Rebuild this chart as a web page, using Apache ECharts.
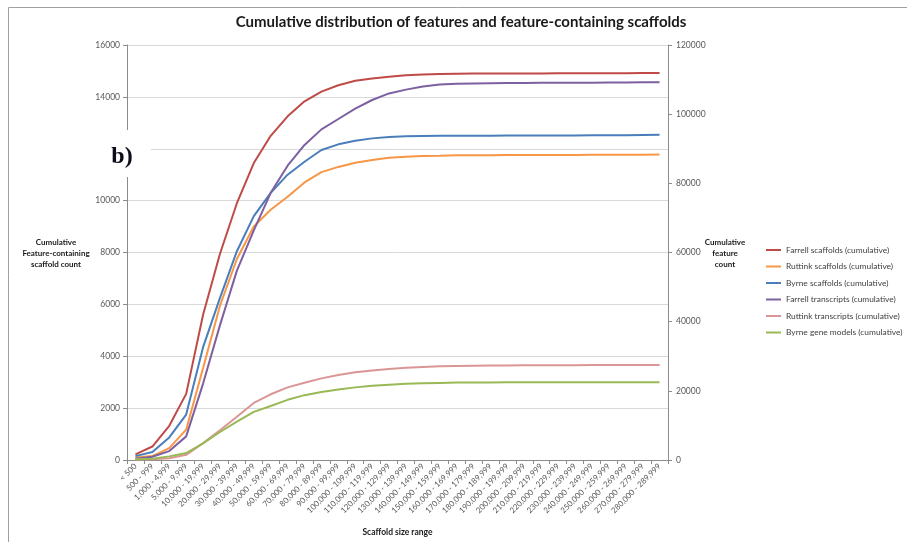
<!DOCTYPE html>
<html>
<head>
<meta charset="utf-8">
<script src="https://cdn.jsdelivr.net/npm/echarts@6/dist/echarts.min.js"></script>
<style>
  html, body { margin: 0; padding: 0; background: #fff; }
  #chart { width: 907px; height: 542px; }
</style>
</head>
<body>
<div id="chart"></div>
<script>
// Scaffold size bins
const categories = [
  '< 500', '500 - 999', '1,000 - 4,999', '5,000 - 9,999',
  '10,000 - 19,999', '20,000 - 29,999', '30,000 - 39,999', '40,000 - 49,999',
  '50,000 - 59,999', '60,000 - 69,999', '70,000 - 79,999', '80,000 - 89,999',
  '90,000 - 99,999', '100,000 - 109,999', '110,000 - 119,999', '120,000 - 129,999',
  '130,000 - 139,999', '140,000 - 149,999', '150,000 - 159,999', '160,000 - 169,999',
  '170,000 - 179,999', '180,000 - 189,999', '190,000 - 199,999', '200,000 - 209,999',
  '210,000 - 219,999', '220,000 - 229,999', '230,000 - 239,999', '240,000 - 249,999',
  '250,000 - 259,999', '260,000 - 269,999', '270,000 - 279,999', '280,000 - 289,999'
];

// Cumulative feature-containing scaffold counts (left axis)
const farrellScaffolds = [220, 520, 1320, 2550, 5600, 7950, 9900, 11450, 12500, 13250, 13830, 14200,
  14450, 14620, 14710, 14780, 14830, 14860, 14880, 14890, 14900, 14900, 14900, 14905,
  14905, 14910, 14910, 14910, 14915, 14915, 14920, 14920];
const ruttinkScaffolds = [100, 150, 460, 1170, 3550, 5950, 7750, 9000, 9650, 10150, 10700, 11100,
  11300, 11460, 11565, 11650, 11690, 11720, 11730, 11745, 11750, 11750, 11755, 11755,
  11760, 11760, 11760, 11765, 11765, 11765, 11770, 11780];
const byrneScaffolds = [150, 310, 870, 1750, 4350, 6250, 8050, 9400, 10300, 11000, 11500, 11950,
  12170, 12310, 12400, 12450, 12480, 12490, 12500, 12500, 12505, 12505, 12510, 12510,
  12510, 12515, 12515, 12520, 12520, 12520, 12530, 12540];

// Cumulative feature counts (right axis)
const farrellTranscripts = [375, 950, 2580, 6830, 22100, 39000, 54750, 66400, 77250, 85100, 91100, 95600,
  98600, 101600, 104100, 106000, 107100, 108000, 108600, 108800, 108900, 108950, 109000, 109000,
  109050, 109050, 109100, 109100, 109150, 109150, 109200, 109200];
const ruttinkTranscripts = [150, 225, 525, 1500, 4900, 8600, 12500, 16500, 19000, 21000, 22350, 23600,
  24600, 25350, 25900, 26300, 26700, 26900, 27100, 27200, 27250, 27300, 27350, 27400,
  27400, 27400, 27400, 27450, 27450, 27450, 27500, 27500];
const byrneGeneModels = [225, 375, 1050, 2000, 4800, 8100, 11100, 13900, 15600, 17400, 18750, 19650,
  20400, 21000, 21450, 21750, 22050, 22200, 22300, 22400, 22400, 22400, 22450, 22450,
  22500, 22500, 22500, 22500, 22500, 22500, 22500, 22500];

const seriesDefs = [
  { name: 'Farrell scaffolds (cumulative)', data: farrellScaffolds, axis: 0, color: '#BE4B48' },
  { name: 'Ruttink scaffolds (cumulative)', data: ruttinkScaffolds, axis: 0, color: '#F79646' },
  { name: 'Byrne scaffolds (cumulative)', data: byrneScaffolds, axis: 0, color: '#4A7EBB' },
  { name: 'Farrell transcripts (cumulative)', data: farrellTranscripts, axis: 1, color: '#7D60A0' },
  { name: 'Ruttink transcripts (cumulative)', data: ruttinkTranscripts, axis: 1, color: '#DA9694' },
  { name: 'Byrne gene models (cumulative)', data: byrneGeneModels, axis: 1, color: '#98B954' }
];

const FONT = 'Lato, "Liberation Sans", sans-serif';
const axisGrey = '#8C8C8C';
const labelGrey = '#595959';
const plainNumber = v => String(v);

const chart = echarts.init(document.getElementById('chart'), null, { renderer: 'canvas' });

chart.setOption({
  animation: false,
  backgroundColor: '#ffffff',
  grid: { left: 127, right: 239, top: 45, bottom: 82, containLabel: false },
  legend: {
    orient: 'vertical',
    left: 766,
    top: 246,
    padding: 0,
    itemWidth: 15,
    itemHeight: 12,
    itemGap: 8.5,
    icon: 'path://M0,5 L15,5 L15,7 L0,7 Z',
    textStyle: { fontFamily: FONT, fontSize: 8.4, color: '#404040' },
    data: seriesDefs.map(s => s.name)
  },
  xAxis: {
    type: 'category',
    data: categories,
    boundaryGap: true,
    axisLine: { lineStyle: { color: axisGrey, width: 1 } },
    axisTick: { show: true, length: 4, alignWithLabel: false, lineStyle: { color: axisGrey } },
    axisLabel: {
      interval: 0, rotate: 45, margin: 5,
      fontFamily: FONT, fontSize: 8, color: labelGrey
    },
    splitLine: { show: false },
    name: 'Scaffold size range',
    nameLocation: 'middle',
    nameGap: 68,
    nameTextStyle: { fontFamily: FONT, fontSize: 8.5, fontWeight: 'bold', color: '#1a1a1a' }
  },
  yAxis: [
    {
      type: 'value', min: 0, max: 16000, interval: 2000,
      axisLine: { show: true, lineStyle: { color: axisGrey, width: 1 } },
      axisTick: { show: true, length: 4, lineStyle: { color: axisGrey } },
      axisLabel: { margin: 7, fontFamily: FONT, fontSize: 8.5, color: labelGrey, formatter: plainNumber },
      splitLine: { show: true, lineStyle: { color: '#D9D9D9', width: 1 } }
    },
    {
      type: 'value', min: 0, max: 120000, interval: 20000, position: 'right',
      axisLine: { show: true, lineStyle: { color: axisGrey, width: 1 } },
      axisTick: { show: true, length: 4, lineStyle: { color: axisGrey } },
      axisLabel: { margin: 8, fontFamily: FONT, fontSize: 8.5, color: labelGrey, formatter: plainNumber },
      splitLine: { show: false }
    }
  ],
  series: seriesDefs.map(s => ({
    name: s.name,
    type: 'line',
    yAxisIndex: s.axis,
    data: s.data,
    symbol: 'none',
    smooth: false,
    lineStyle: { color: s.color, width: 2 },
    itemStyle: { color: s.color }
  })),
  graphic: [
    // outer frame
    { type: 'polyline', silent: true, z: 0,
      shape: { points: [[8.5, 542], [8.5, 7.5], [907, 7.5]] },
      style: { stroke: '#A0A0A0', lineWidth: 1, fill: null } },
    // chart title
    { type: 'text', x: 461, y: 22, z: 10,
      style: { text: 'Cumulative distribution of features and feature-containing scaffolds',
        fontFamily: FONT, fontSize: 15, fontWeight: 'bold', fill: '#1a1a1a',
        textAlign: 'center', textVerticalAlign: 'middle' } },
    // left axis title
    { type: 'text', x: 56, y: 253, z: 10,
      style: { text: 'Cumulative\nFeature-containing\nscaffold count',
        fontFamily: FONT, fontSize: 8, fontWeight: 'bold', fill: '#1a1a1a', lineHeight: 11,
        textAlign: 'center', textVerticalAlign: 'middle' } },
    // right axis title
    { type: 'text', x: 725, y: 253, z: 10,
      style: { text: 'Cumulative\nfeature\ncount',
        fontFamily: FONT, fontSize: 8, fontWeight: 'bold', fill: '#1a1a1a', lineHeight: 11,
        textAlign: 'center', textVerticalAlign: 'middle' } },
    // panel label over the left axis
    { type: 'rect', z: 20, shape: { x: 88, y: 130, width: 63, height: 47 },
      style: { fill: '#ffffff' } },
    { type: 'text', x: 122, y: 157, z: 21,
      style: { text: 'b)', fontFamily: '"Liberation Serif", "DejaVu Serif", serif',
        fontSize: 24, fontWeight: 'bold', fill: '#0d0d1a',
        textAlign: 'center', textVerticalAlign: 'middle' } }
  ]
});
</script>
</body>
</html>
